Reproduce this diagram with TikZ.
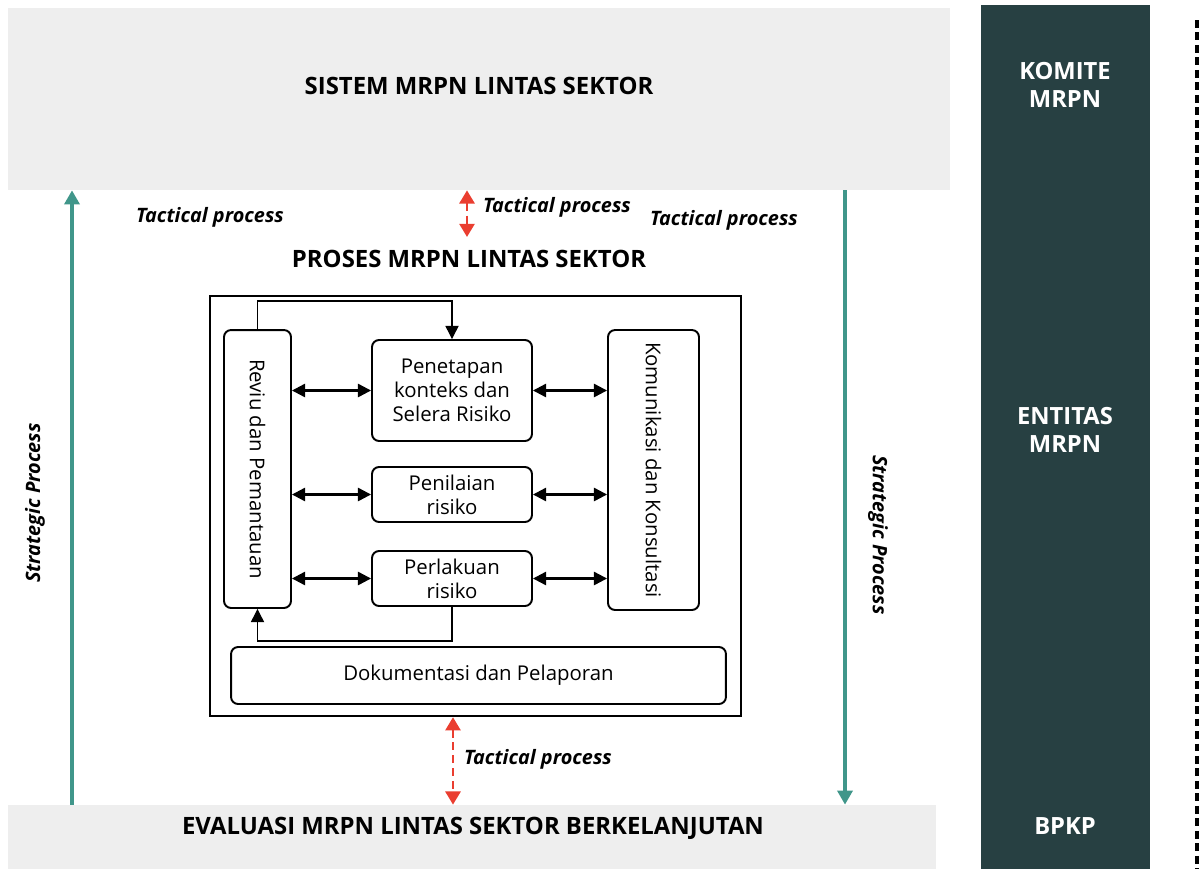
\documentclass[tikz,border=0pt]{standalone}
\usepackage{fontspec}
\setmainfont{Open Sans}
\usetikzlibrary{arrows.meta}
\definecolor{panelgray}{RGB}{238,238,238}
\definecolor{darkteal}{RGB}{39,64,66}
\definecolor{strategic}{RGB}{64,150,138}
\definecolor{tactical}{RGB}{234,62,48}

\tikzset{
  panel/.style={fill=panelgray, inner sep=0pt},
  heading/.style={font=\bfseries\fontsize{13.6}{16}\selectfont},
  rolelabel/.style={text=white, align=center, font=\bfseries\fontsize{13.5}{15.5}\selectfont},
  tactlabel/.style={font=\bfseries\itshape\fontsize{11.3}{13}\selectfont},
  stepbox/.style={draw, rounded corners=4pt, line width=1.1pt, align=center,
    inner sep=0pt, font=\fontsize{11.6}{13.6}\selectfont},
  dualarrow/.style={{Triangle[length=7.5pt,width=7.5pt]}-{Triangle[length=7.5pt,width=7.5pt]}, line width=1.3pt},
  feedback/.style={-{Triangle[length=7.5pt,width=7.5pt]}, line width=0.7pt},
  strategicarrow/.style={-{Triangle[length=8pt,width=8.5pt]}, strategic, line width=2pt},
  tacticalarrow/.style={{Triangle[length=7.5pt,width=8.5pt]}-{Triangle[length=7.5pt,width=8.5pt]}, tactical,
    line width=1.6pt, dash pattern=on 4.5pt off 2.8pt}
}

\begin{document}
\begin{tikzpicture}[x=0.02cm, y=-0.02cm]
  \useasboundingbox (0,0) rectangle (1200,869);

  % panels
  \node[panel, minimum width=18.84cm, minimum height=3.64cm] (sistem) at (479,99) {};
  \node[heading] at (479,86) {SISTEM MRPN LINTAS SEKTOR};
  \node[panel, minimum width=18.56cm, minimum height=1.28cm] (evaluasi) at (472,837) {};
  \node[heading] at (473,828) {EVALUASI MRPN LINTAS SEKTOR BERKELANJUTAN};

  % role column
  \node[fill=darkteal, inner sep=0pt, minimum width=3.38cm, minimum height=17.28cm] (roles) at (1065.5,437) {};
  \node[rolelabel] at (1065,85) {KOMITE\\MRPN};
  \node[rolelabel] at (1065,430) {ENTITAS\\MRPN};
  \node[rolelabel] at (1065,826) {BPKP};
  \coordinate (dashtop) at (1197,20);
  \coordinate (dashbot) at (1197,869);
  \draw[line width=2.6pt, dash pattern=on 4.5pt off 2.6pt] (dashtop) -- (dashbot);

  % strategic arrows
  \draw[strategicarrow] (evaluasi.north -| 72,0) -- (sistem.south -| 72,0);
  \draw[strategicarrow] (sistem.south -| 845,0) -- (evaluasi.north -| 845,0);
  \node[tactlabel, rotate=90] at (35,503) {Strategic Process};
  \node[tactlabel, rotate=-90] at (878,535) {Strategic Process};

  % process frame
  \node[draw, line width=1.4pt, minimum width=10.62cm, minimum height=8.4cm] (proses) at (475.5,506) {};
  \node[heading] at (469,259) {PROSES MRPN LINTAS SEKTOR};

  % tactical arrows
  \coordinate (tacttop) at (467,237);
  \draw[tacticalarrow] (sistem.south -| tacttop) -- (tacttop);
  \draw[tacticalarrow] (proses.south -| 453,0) -- (evaluasi.north -| 453,0);
  \node[tactlabel] at (210,217) {Tactical process};
  \node[tactlabel] at (557,207) {Tactical process};
  \node[tactlabel] at (724,220) {Tactical process};
  \node[tactlabel] at (538,759) {Tactical process};

  % process steps
  \node[stepbox, rotate=-90, minimum width=5.56cm, minimum height=1.34cm] (reviu) at (257.5,469) {Reviu dan Pemantauan};
  \node[stepbox, rotate=-90, minimum width=5.6cm, minimum height=1.82cm] (komunikasi) at (653.5,470) {Komunikasi dan Konsultasi};
  \node[stepbox, minimum width=3.2cm, minimum height=2.02cm] (penetapan) at (452,390.5) {Penetapan\\konteks dan\\Selera Risiko};
  \node[stepbox, minimum width=3.2cm, minimum height=1.1cm] (penilaian) at (452,494.5) {Penilaian\\risiko};
  \node[stepbox, minimum width=3.2cm, minimum height=1.1cm] (perlakuan) at (452,578.5) {Perlakuan\\risiko};
  \node[stepbox, minimum width=9.9cm, minimum height=1.14cm] (dokumentasi) at (478.5,675.5) {Dokumentasi dan Pelaporan};

  % links
  \foreach \s in {penetapan, penilaian, perlakuan} {
    \draw[dualarrow] (reviu.north |- \s.west) -- (\s.west);
    \draw[dualarrow] (\s.east) -- (komunikasi.south |- \s.east);
  }
  \draw[feedback] (reviu.west) -- ++(0,-28) -| (penetapan.north);
  \draw[feedback] (perlakuan.south) -- ++(0,34) -| (reviu.east);
\end{tikzpicture}
\end{document}
